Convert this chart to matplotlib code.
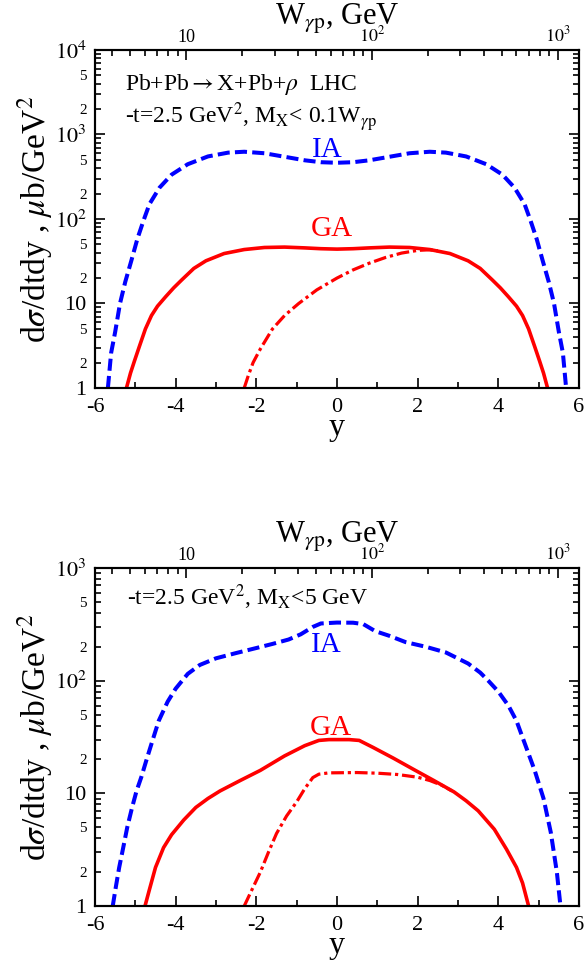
import numpy as np
import matplotlib
matplotlib.use('Agg')
import matplotlib.pyplot as plt
import matplotlib.ticker as ticker

plt.rcParams['font.family'] = ['Liberation Serif', 'DejaVu Serif']
plt.rcParams['mathtext.fontset'] = 'stix'
plt.rcParams['axes.unicode_minus'] = False

# W_gamma p at y = 0 (GeV), W = W0 * exp(y/2)
W0 = 65.0

# ---- top panel: M_X < 0.1 W ----
y_ia_top = [-5.68, -5.6, -5.5, -5.38, -5.25, -5.1, -4.95, -4.8, -4.65, -4.4, -4.1, -3.7, -3.2,
            -2.7, -2.3, -1.8, -1.3, -0.8, -0.4, 0.0, 0.4, 0.8, 1.3, 1.8, 2.3, 2.7, 3.2, 3.7,
            4.1, 4.4, 4.65, 4.8, 4.95, 5.1, 5.25, 5.38, 5.5, 5.6, 5.68]
ia_top = [1, 2.6, 4.6, 10, 18, 32, 58, 95, 150, 235, 335, 445, 550,
          610, 625, 600, 545, 495, 470, 463, 470, 495, 545, 600, 625, 610, 550, 445,
          335, 235, 150, 95, 58, 32, 18, 10, 4.6, 2.6, 1]

y_ga_top = [-5.22, -5.12, -5.02, -4.9, -4.75, -4.6, -4.45, -4.25, -4.05, -3.85, -3.55, -3.25,
            -2.8, -2.3, -1.8, -1.3, -0.8, -0.4, 0.0, 0.4, 0.8, 1.3, 1.8, 2.3, 2.8, 3.25, 3.55,
            3.85, 4.05, 4.25, 4.45, 4.6, 4.75, 4.9, 5.02, 5.12, 5.22]
ga_top = [1, 1.5, 2.1, 3.1, 5, 7.2, 9.3, 12, 15.3, 19, 26, 32,
          39, 43.5, 46, 46.5, 45.5, 44.5, 44, 44.5, 45.5, 46.5, 46, 43.5, 39, 32, 26,
          19, 15.3, 12, 9.3, 7.2, 5, 3.1, 2.1, 1.5, 1]

y_dd_top = [-2.3, -2.2, -2.08, -1.9, -1.6, -1.3, -0.95, -0.5, 0.0, 0.4, 0.8, 1.2, 1.6, 2.0, 2.3, 2.5]
dd_top = [1, 1.4, 2, 2.9, 5, 7.2, 10, 14.5, 20, 25, 30, 35, 39.5, 42.5, 43.2, 42]

# ---- bottom panel: M_X < 5 GeV ----
y_ia_bot = [-5.56, -5.48, -5.4, -5.3, -5.2, -5.08, -4.97, -4.85, -4.72, -4.58, -4.42, -4.2, -4.0,
            -3.7, -3.4, -3.0, -2.5, -2.0, -1.6, -1.2, -0.9, -0.6, -0.4, 0.0, 0.4, 0.65, 0.95,
            1.3, 1.7, 2.2, 2.7, 3.25, 3.55, 3.75, 4.0, 4.25, 4.45, 4.65, 4.9, 5.12, 5.3, 5.45, 5.54]
ia_bot = [1, 1.5, 2.2, 3.3, 5, 7.5, 10.5, 14, 20, 29, 44, 65, 85,
          115, 138, 158, 176, 195, 212, 232, 258, 300, 322, 328, 327, 318, 275,
          250, 220, 200, 178, 142, 118, 100, 80, 60, 44, 28, 16, 9, 4.5, 2, 1]

y_ga_bot = [-4.76, -4.65, -4.5, -4.3, -4.1, -3.8, -3.5, -3.2, -2.9, -2.4, -1.9, -1.3, -0.8,
            -0.45, -0.2, 0.3, 0.55, 0.9, 1.4, 1.9, 2.4, 2.9, 3.2, 3.5, 3.9, 4.2, 4.45, 4.6, 4.75]
ga_bot = [1, 1.4, 2.2, 3.3, 4.3, 5.8, 7.5, 9.0, 10.5, 13, 16, 21.5, 26.5,
          29.5, 30, 30, 29.5, 25.5, 20.5, 16.3, 13, 10.3, 8.6, 7, 4.8, 3.2, 2.2, 1.6, 1]

y_dd_bot = [-2.3, -2.15, -1.9, -1.7, -1.5, -1.25, -1.0, -0.8, -0.6, -0.45, -0.2, 0.5, 1.0,
            1.5, 2.0, 2.3, 2.6, 2.85]
dd_bot = [1, 1.3, 2, 3, 4.4, 6.3, 8.4, 11, 13.8, 14.8, 15.2, 15.3, 15.1,
          14.7, 13.9, 13, 11.8, 10.5]


def major_fmt(v, pos):
    n = int(round(np.log10(v)))
    if n == 0:
        return '1'
    if n == 1:
        return '10'
    return r'$10^{%d}$' % n


def minor_fmt(v, pos):
    m = v / 10 ** np.floor(np.log10(v) + 1e-9)
    m = int(round(m))
    return str(m) if m in (2, 5) else ''


def setup(ax, ymax):
    ax.set_yscale('log')
    ax.set_xlim(-6, 6)
    ax.set_ylim(1, ymax)
    ax.xaxis.set_major_locator(ticker.MultipleLocator(2))
    ax.xaxis.set_minor_locator(ticker.MultipleLocator(1))
    ax.yaxis.set_major_locator(ticker.LogLocator(10, numticks=10))
    ax.yaxis.set_minor_locator(ticker.LogLocator(10, subs=np.arange(2, 10), numticks=10))
    ax.yaxis.set_major_formatter(ticker.FuncFormatter(major_fmt))
    ax.yaxis.set_minor_formatter(ticker.FuncFormatter(minor_fmt))
    ax.tick_params(which='both', direction='in', right=True, width=1.2)
    ax.tick_params(which='major', length=7, labelsize=16)
    ax.tick_params(which='minor', length=4, labelsize=11)
    ax.tick_params(axis='y', which='both', pad=6)
    ax.tick_params(axis='x', which='both', pad=7)
    for s in ax.spines.values():
        s.set_linewidth(1.5)
    ax.set_xlabel('y', fontsize=23, labelpad=-3)
    ax.set_ylabel(r'd$\sigma$/dtdy , $\mu$b/GeV$^2$', fontsize=24, labelpad=0)

    # top axis in W_gamma p
    ax2 = ax.twiny()
    ax2.set_xscale('log')
    ax2.set_xlim(W0 * np.exp(-3), W0 * np.exp(3))
    ax2.xaxis.set_major_locator(ticker.FixedLocator([10, 100, 1000]))
    ax2.xaxis.set_major_formatter(ticker.FixedFormatter(['10', r'$10^2$', r'$10^3$']))
    ax2.xaxis.set_minor_locator(ticker.LogLocator(10, subs=np.arange(2, 10), numticks=10))
    ax2.xaxis.set_minor_formatter(ticker.NullFormatter())
    ax2.tick_params(which='both', direction='in', width=1.2)
    ax2.tick_params(which='major', length=7, labelsize=13, pad=3)
    ax2.tick_params(which='minor', length=4)
    ax2.set_xlabel(r'W$_{\gamma \mathrm{p}}$, GeV', fontsize=22, labelpad=1)
    for s in ax2.spines.values():
        s.set_linewidth(1.5)
    return ax2


fig = plt.figure(figsize=(5.86, 9.69), dpi=100)
ax_top = fig.add_axes([0.1621, 0.5996, 0.826, 0.3488])
ax_bot = fig.add_axes([0.1621, 0.0650, 0.826, 0.3488])

for ax, ymax, ya, a, yg, g, yd, d in [
        (ax_top, 1e4, y_ia_top, ia_top, y_ga_top, ga_top, y_dd_top, dd_top),
        (ax_bot, 1e3, y_ia_bot, ia_bot, y_ga_bot, ga_bot, y_dd_bot, dd_bot)]:
    ax.plot(ya, a, color='blue', lw=2.9, dashes=(3.0, 1.3))
    ax.plot(yg, g, color='red', lw=2.6)
    ax.plot(yd, d, color='red', lw=2.3, dashes=(4.0, 1.2, 1.0, 1.2))
    setup(ax, ymax)

ax_top.text(-5.25, 3365, r'Pb+Pb$\rightarrow$X+Pb+$\rho$  LHC', fontsize=17, va='baseline')
ax_top.text(-5.25, 1350, r'-t=2.5 GeV$^2$, M$_{\mathrm{X}}$< 0.1W$_{\gamma \mathrm{p}}$',
            fontsize=17, va='baseline')
ax_top.text(-0.25, 660, 'IA', color='blue', fontsize=21, ha='center', va='center')
ax_top.text(-0.12, 76, 'GA', color='red', fontsize=21, ha='center', va='center')

ax_bot.text(-5.2, 468, r'-t=2.5 GeV$^2$, M$_{\mathrm{X}}$<5 GeV', fontsize=17, va='baseline')
ax_bot.text(-0.26, 208, 'IA', color='blue', fontsize=21, ha='center', va='center')
ax_bot.text(-0.15, 38, 'GA', color='red', fontsize=21, ha='center', va='center')

fig.savefig('out.png', dpi=100)
